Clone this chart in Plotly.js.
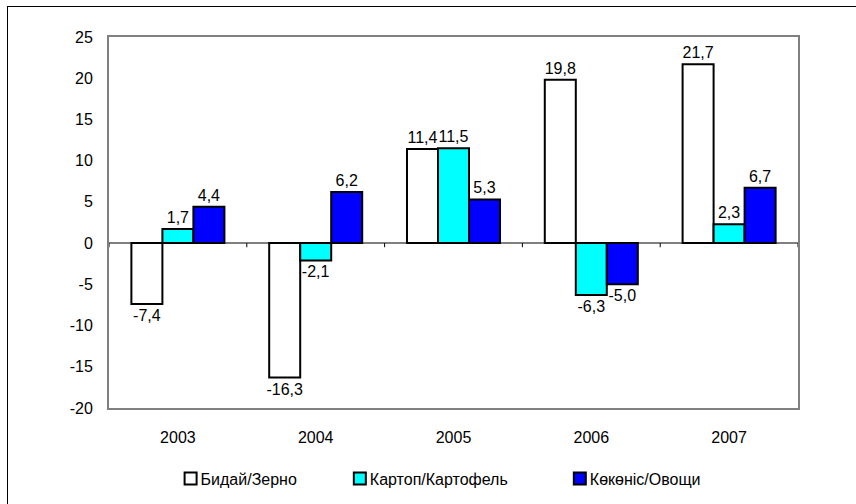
<!DOCTYPE html>
<html>
<head>
<meta charset="utf-8">
<script src="https://cdn.plot.ly/plotly-3.0.1.min.js"></script>
<style>
  body { margin: 0; padding: 0; background: #fff; }
  #wrap { position: relative; width: 856px; height: 504px; overflow: hidden; }
  #frame { position: absolute; left: 7px; top: 6px; width: 860px; height: 510px; border: 1px solid #000; box-sizing: border-box; pointer-events: none; z-index: 5; }
  #chart { position: absolute; left: 0; top: 0; width: 856px; height: 504px; }
</style>
</head>
<body>
<div id="wrap">
  <div id="chart"></div>
  <div id="frame"></div>
</div>
<script>
const years = ['2003', '2004', '2005', '2006', '2007'];
const seriesNames = ['Бидай/Зерно', 'Картоп/Картофель', 'Көкөніс/Овощи'];
const grain = [-7.4, -16.3, 11.4, 19.8, 21.7];
const potato = [1.7, -2.1, 11.5, -6.3, 2.3];
const vegetables = [4.4, 6.2, 5.3, -5.0, 6.7];
const colors = ['#ffffff', '#00ffff', '#0000ff'];
const yTicks = [-20, -15, -10, -5, 0, 5, 10, 15, 20, 25];

const fmt = v => v.toFixed(1).replace('.', ',');
const font = { family: 'Liberation Sans, Arial, sans-serif', size: 16, color: '#000' };
const legendNames = ['legend', 'legend2', 'legend3'];
const legendX = [0.1993, 0.397, 0.654];

const data = [grain, potato, vegetables].map((vals, i) => ({
  type: 'bar',
  name: seriesNames[i],
  legend: legendNames[i],
  x: years,
  y: vals,
  text: vals.map(fmt),
  textposition: 'outside',
  textangle: 0,
  constraintext: 'none',
  textfont: font,
  cliponaxis: false,
  marker: { color: colors[i], line: { color: '#000', width: 2 } },
  hoverinfo: 'skip'
}));

// small tick marks on the zero line between categories
const shapes = [];
for (let k = 0; k <= years.length; k++) {
  shapes.push({
    type: 'line', xref: 'x', yref: 'y',
    x0: k - 0.5, x1: k - 0.5, y0: 0, y1: -0.5,
    line: { color: '#000', width: 1 }
  });
}

const layout = {
  width: 856, height: 504,
  margin: { l: 109, r: 58, t: 37, b: 96, autoexpand: false },
  paper_bgcolor: '#fff', plot_bgcolor: '#fff',
  barmode: 'group', bargap: 0.325, bargroupgap: 0,
  showlegend: true,
  xaxis: {
    type: 'category', tickfont: font, showgrid: false, zeroline: false,
    showline: true, mirror: true, linecolor: '#808080', linewidth: 2,
    ticks: '', range: [-0.5, 4.5], ticklabelstandoff: 14
  },
  yaxis: {
    range: [-20, 25], tickvals: yTicks, ticktext: yTicks.map(String),
    tickfont: font, showgrid: false, zeroline: true, zerolinecolor: '#808080', zerolinewidth: 2,
    showline: true, mirror: true, linecolor: '#808080', linewidth: 2,
    ticks: '', ticklabelstandoff: 11
  },
  shapes: shapes
};
legendNames.forEach((ln, i) => {
  layout[ln] = {
    xref: 'container', yref: 'container',
    x: legendX[i], xanchor: 'left', y: 1 - 478.5 / 504, yanchor: 'middle',
    font: font, bgcolor: 'rgba(0,0,0,0)', borderwidth: 0,
    itemwidth: 30, orientation: 'h'
  };
});

const gd = document.getElementById('chart');
function tightenLegend() {
  gd.querySelectorAll('.legendtext, .legend2text, .legend3text').forEach(t => {
    if (t.getAttribute('x') !== '30') t.setAttribute('x', '30');
  });
}
Plotly.newPlot(gd, data, layout, { displayModeBar: false, staticPlot: true }).then(() => {
  tightenLegend();
  gd.on('plotly_afterplot', tightenLegend);
});
</script>
</body>
</html>
